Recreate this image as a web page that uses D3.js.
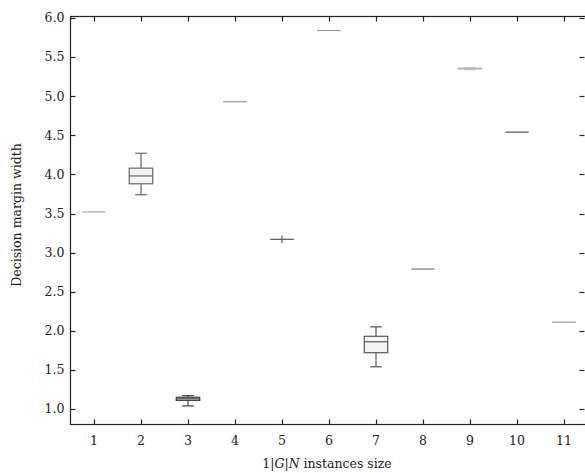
<!DOCTYPE html>
<html><head><meta charset="utf-8">
<script src="https://cdn.jsdelivr.net/npm/d3@7"></script>
<style>body{margin:0;background:#fff}svg{display:block}text{font-family:"DejaVu Serif",serif}</style>
</head><body><svg id="c" width="585" height="473"></svg>
<script>
const categories = [1,2,3,4,5,6,7,8,9,10,11];
const whiskerLow  = [3.52,3.74,1.04,4.93,3.12,5.84,1.54,2.79,5.34,4.54,2.11];
const q1          = [3.52,3.88,1.11,4.93,3.17,5.84,1.72,2.79,5.35,4.54,2.11];
const median      = [3.52,3.98,1.13,4.93,3.17,5.84,1.86,2.79,5.35,4.54,2.11];
const q3          = [3.52,4.08,1.15,4.93,3.17,5.84,1.93,2.79,5.36,4.54,2.11];
const whiskerHigh = [3.52,4.27,1.17,4.93,3.22,5.84,2.05,2.79,5.36,4.54,2.11];
const yTicks = [1.0,1.5,2.0,2.5,3.0,3.5,4.0,4.5,5.0,5.5,6.0];
const strokeColors = ["#aaa","#666","#444","#999","#555","#999","#555","#777","#bbb","#555","#999"];

(function(){
const svg = d3.select("#c");
const x = d3.scaleLinear().domain([0.5,11.5]).range([70.5,587.5]);
const y = d3.scaleLinear().domain([1,6]).range([409,18]);
const pTop = 16.5, pBottom = 424.5, pLeft = 70.5, pRight = 584.5;

const g = svg.append("g");
const w = (x(1.25)-x(1));
categories.forEach((c,i)=>{
  const cx = x(c), col = strokeColors[i];
  const gg = g.append("g").attr("stroke",col).attr("stroke-width",1.2).attr("fill","none");
  if (whiskerHigh[i] !== whiskerLow[i]) {
    gg.append("line").attr("x1",cx).attr("x2",cx).attr("y1",y(q3[i])).attr("y2",y(whiskerHigh[i]));
    gg.append("line").attr("x1",cx).attr("x2",cx).attr("y1",y(q1[i])).attr("y2",y(whiskerLow[i]));
    if (q3[i] !== q1[i]) {
      gg.append("line").attr("x1",cx-w*0.5).attr("x2",cx+w*0.5).attr("y1",y(whiskerHigh[i])).attr("y2",y(whiskerHigh[i]));
      gg.append("line").attr("x1",cx-w*0.5).attr("x2",cx+w*0.5).attr("y1",y(whiskerLow[i])).attr("y2",y(whiskerLow[i]));
    }
  }
  if (q3[i] !== q1[i]) {
    gg.append("rect").attr("x",cx-w).attr("width",2*w).attr("y",y(q3[i])).attr("height",y(q1[i])-y(q3[i])).attr("fill","#f4f4f4");
  }
  gg.append("line").attr("x1",cx-w).attr("x2",cx+w).attr("y1",y(median[i])).attr("y2",y(median[i]));
});

const ax = svg.append("g").attr("stroke","#222").attr("fill","none").attr("stroke-width",1.2);
ax.append("rect").attr("x",pLeft).attr("y",pTop).attr("width",pRight-pLeft+3).attr("height",pBottom-pTop);
yTicks.forEach(t=>{
  const py = Math.round(y(t))+0.5;
  ax.append("line").attr("x1",pLeft).attr("x2",pLeft+5).attr("y1",py).attr("y2",py);
  ax.append("line").attr("x1",pRight-5).attr("x2",pRight).attr("y1",py).attr("y2",py);
});
categories.forEach(c=>{
  const px = Math.round(x(c))+0.5;
  ax.append("line").attr("x1",px).attr("x2",px).attr("y1",pBottom).attr("y2",pBottom-5);
  ax.append("line").attr("x1",px).attr("x2",px).attr("y1",pTop).attr("y2",pTop+5);
});
svg.append("g").selectAll("text").data(yTicks).join("text")
  .attr("x",pLeft-6).attr("y",d=>y(d)).attr("dy","0.35em").attr("text-anchor","end")
  .attr("font-size",12.5).attr("fill","#222").text(d=>d3.format(".1f")(d));
svg.append("g").selectAll("text").data(categories).join("text")
  .attr("x",d=>x(d)).attr("y",pBottom+20).attr("text-anchor","middle")
  .attr("font-size",12.5).attr("fill","#222").text(d=>d);
const xl = svg.append("text").attr("x",327).attr("y",468).attr("text-anchor","middle").attr("font-size",12.5).attr("fill","#222");
xl.append("tspan").text("1|");
xl.append("tspan").attr("font-style","italic").text("G");
xl.append("tspan").text("|");
xl.append("tspan").attr("font-style","italic").text("N");
xl.append("tspan").text(" instances size");
svg.append("text").attr("transform","translate(21,215) rotate(-90)").attr("text-anchor","middle")
  .attr("font-size",12.5).attr("fill","#222").text("Decision margin width");
})();
</script></body></html>
